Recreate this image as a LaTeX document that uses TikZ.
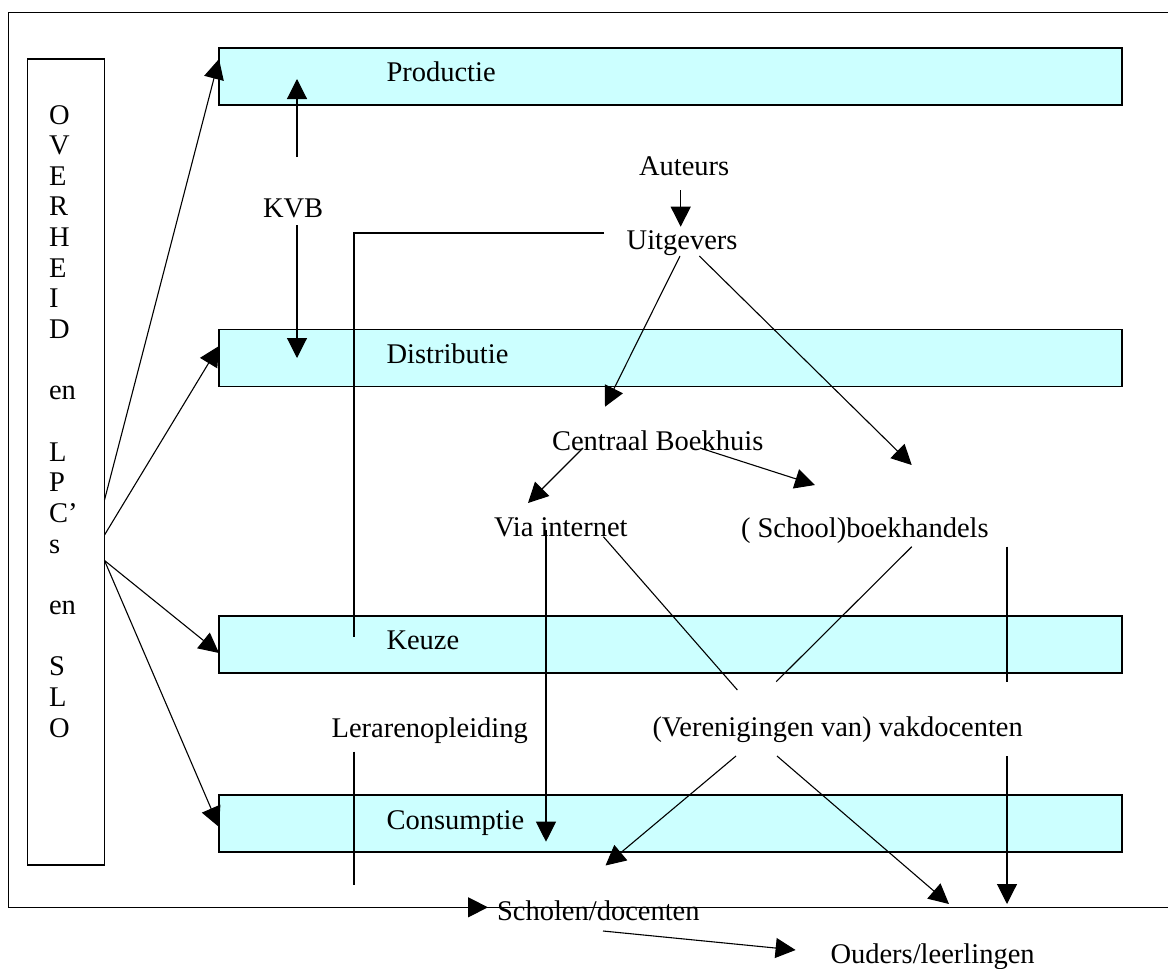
\documentclass[tikz,border=0pt]{standalone}
\usepackage{fontspec}
\setmainfont{Liberation Serif}
\usetikzlibrary{arrows.meta}
\definecolor{boxfill}{HTML}{CCFFFF}
\begin{document}
\begin{tikzpicture}[x=0.5pt, y=-0.5pt,
  every node/.style={font=\fontsize{14.25}{15.33}\selectfont, inner sep=0pt, outer sep=0pt},
  lbl/.style={anchor=base west},
  stage/.style={draw=black, fill=boxfill, line width=0.55pt, minimum width=451.5pt, minimum height=28.5pt},
  colbox/.style={draw=black, fill=white, line width=0.55pt, minimum width=38.5pt, minimum height=403pt},
  conn/.style={line width=0.55pt},
  arr/.style={conn, -{Triangle[length=10pt,width=10pt]}}]
\useasboundingbox (0,0) rectangle (1168,969);
% outer frame
\coordinate (fTR) at (1168,12.3);
\coordinate (fTL) at (8.3,12.3);
\coordinate (fBL) at (8.3,907.3);
\coordinate (fBR) at (1168,907.3);
\draw[conn] (fTR) -- (fTL) -- (fBL) -- (fBR);
% boxes
\node[colbox] (gov) at (66,462) {};
\node[stage] (prod) at (670.5,76.5) {};
\node[stage] (dist) at (670.5,358) {};
\node[stage] (keuze) at (670.5,644.5) {};
\node[stage] (cons) at (670.5,823.5) {};
% column text
\foreach \t [count=\i] in {O,V,E,R,H,E,I,D,{},en,{},L,P,C’,s,{},en,{},S,L,O}
  \node[lbl] (col\i) at (49,{124+(\i-1)*30.65}) {\t};
% labels
\node[lbl] (prodl) at (386.5,81.5) {Productie};
\node[lbl] (distl) at (386.5,363.5) {Distributie};
\node[lbl] (keuzel) at (386.5,649) {Keuze};
\node[lbl] (consl) at (386.5,829) {Consumptie};
\node[lbl] (kvb) at (263,217) {KVB};
\node[lbl] (aut) at (639,175) {Auteurs};
\node[lbl] (uitg) at (626.7,249) {Uitgevers};
\node[lbl] (cb) at (552,450) {Centraal Boekhuis};
\node[lbl] (vi) at (494,536.7) {Via internet};
\node[lbl] (sb) at (741,537) {( School)boekhandels};
\node[lbl] (ler) at (331.6,737) {Lerarenopleiding};
\node[lbl] (ver) at (652.5,736.7) {(Verenigingen van) vakdocenten};
\node[lbl] (sch) at (497,920) {Scholen/docenten};
\node[lbl] (oud) at (830.5,963) {Ouders/leerlingen};
% connector points
\coordinate (g1) at (104.5,500);
\coordinate (g2) at (104.5,535);
\coordinate (g3) at (104.5,560.5);
\coordinate (p1) at (219,59);
\coordinate (d1) at (219,346);
\coordinate (k1) at (219,653);
\coordinate (c1) at (219,827);
\draw[arr] (g1) -- (p1);
\draw[arr] (g2) -- (d1);
\draw[arr] (g3) -- (k1);
\draw[arr] (g3) -- (c1);
% KVB
\coordinate (kvbU) at (297,157);
\coordinate (kvbUt) at (297,79);
\coordinate (kvbD) at (297,225);
\coordinate (kvbDt) at (297,358);
\draw[arr] (kvbU) -- (kvbUt);
\draw[arr] (kvbD) -- (kvbDt);
% Uitgevers to Keuze
\coordinate (uk1) at (604,233);
\coordinate (uk2) at (354,233);
\coordinate (uk3) at (354,637);
\draw[conn] (uk1) -- (uk2) -- (uk3);
% Auteurs -> Uitgevers
\coordinate (a1) at (680.7,190);
\coordinate (a2) at (680.7,226.7);
\draw[arr] (a1) -- (a2);
% Uitgevers -> CB, SB
\coordinate (u1) at (680,256);
\coordinate (u1t) at (605,406.7);
\coordinate (u2) at (699.3,256);
\coordinate (u2t) at (911.7,465);
\draw[arr] (u1) -- (u1t);
\draw[arr] (u2) -- (u2t);
% CB -> VI, SB
\coordinate (cb1) at (583,448);
\coordinate (cb1t) at (528,503);
\coordinate (cb2) at (700,448);
\coordinate (cb2t) at (815,485);
\draw[arr] (cb1) -- (cb1t);
\draw[arr] (cb2) -- (cb2t);
% Via internet lines
\coordinate (vi1) at (546,530);
\coordinate (vi1t) at (546,841.7);
\coordinate (vi2) at (603.4,536.7);
\coordinate (vi2e) at (737.4,690);
\draw[arr] (vi1) -- (vi1t);
\draw[conn] (vi2) -- (vi2e);
% Schoolboekhandels lines
\coordinate (sb1) at (911.8,546.7);
\coordinate (sb1e) at (776.2,681.7);
\coordinate (sb2) at (1007,546.7);
\coordinate (sb2e) at (1007,681.7);
\draw[conn] (sb1) -- (sb1e);
\draw[conn] (sb2) -- (sb2e);
% Verenigingen lines
\coordinate (v1) at (736,756);
\coordinate (v1t) at (605.5,865.5);
\coordinate (v2) at (777,756);
\coordinate (v2t) at (949,904);
\coordinate (v3) at (1007,756);
\coordinate (v3t) at (1007,904);
\draw[arr] (v1) -- (v1t);
\draw[arr] (v2) -- (v2t);
\draw[arr] (v3) -- (v3t);
% Lerarenopleiding
\coordinate (l1) at (354,751.7);
\coordinate (l1e) at (354,885);
\coordinate (l2) at (354,907.3);
\coordinate (l2t) at (488,907.3);
\draw[conn] (l1) -- (l1e);
\draw[arr] (l2) -- (l2t);
% Scholen -> Ouders
\coordinate (s1) at (603,931);
\coordinate (s1t) at (795.6,950);
\draw[arr] (s1) -- (s1t);
\end{tikzpicture}
\end{document}
